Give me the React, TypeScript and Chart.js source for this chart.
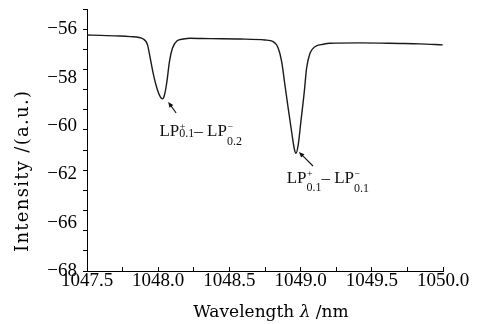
import React, { useEffect, useRef } from 'react';
import { Chart, registerables } from 'chart.js';

Chart.register(...registerables);

// Wavelength (nm) of each read point along the trace
const wavelength = [
  1047.502, 1047.593, 1047.733, 1047.804, 1047.897, 1047.925, 1047.944, 1047.967, 1047.991, 1048.014,
  1048.030, 1048.044, 1048.061, 1048.079, 1048.100, 1048.131, 1048.177, 1048.224, 1048.364, 1048.575,
  1048.750, 1048.808, 1048.843, 1048.867, 1048.890, 1048.913, 1048.937, 1048.955, 1048.967, 1048.983,
  1049.002, 1049.026, 1049.042, 1049.066, 1049.101, 1049.159, 1049.206, 1049.416, 1049.697, 1049.837,
  1049.998,
];
// Intensity (a.u.) at each wavelength
const intensity = [
  -56.29, -56.31, -56.34, -56.37, -56.49, -56.78, -57.44, -58.27, -58.93, -59.35,
  -59.46, -59.27, -58.61, -57.61, -56.95, -56.59, -56.49, -56.45, -56.47, -56.49,
  -56.54, -56.62, -56.95, -57.61, -58.77, -59.93, -61.09, -61.91, -62.16, -61.75,
  -60.59, -59.10, -57.94, -57.20, -56.87, -56.75, -56.70, -56.68, -56.71, -56.73,
  -56.78,
];

const xTickLabels = ['1047.5', '1048.0', '1048.5', '1049.0', '1049.5', '1050.0'];
const yTickLabels = ['\u221256', '\u221258', '\u221260', '\u221262', '\u221266', '\u221268'];
const yMin = -68;
const yMax = -55;
const yLabelTop = -56;

const xTitleParts = [
  { text: 'Wavelength ', italic: false },
  { text: '\u03bb', italic: true },
  { text: ' /nm', italic: false },
];
const yTitle = 'Intensity /(a.u.)';

// Dip annotations (data coordinates)
const annotationTips = [[1048.070, -59.61], [1048.988, -62.09]];
const annotationTails = [[1048.126, -60.16], [1049.087, -62.79]];
const annotationTextAt = [[1048.009, -61.29], [1048.902, -63.65]];
const annotationParts = [
  [
    { main: 'LP', sup: '+', sub: '0.1', subDy: 1.5, after: '\u2013 ' },
    { main: 'LP', sup: '\u2212', sub: '0.2', subDy: 9, after: '' },
  ],
  [
    { main: 'LP', sup: '+', sub: '0.1', subDy: 7.5, after: '\u2013 ' },
    { main: 'LP', sup: '\u2212', sub: '0.1', subDy: 8.5, after: '' },
  ],
];

const xTickValues = xTickLabels.map((s) => parseFloat(s));
const yLabelValues = yTickLabels.map(
  (_, i) => yLabelTop + (i * (yMin - yLabelTop)) / (yTickLabels.length - 1)
);

const serif = "'Liberation Serif', 'Times New Roman', serif";
const titleSerif = "'DejaVu Serif', 'Liberation Serif', serif";

const annotationPlugin = {
  id: 'dipLabels',
  afterDatasetsDraw(chart: any) {
    const { ctx, chartArea } = chart;
    const xs = chart.scales.x;
    const ys = chart.scales.y;
    ctx.save();
    ctx.fillStyle = '#111';
    ctx.strokeStyle = '#111';
    ctx.textBaseline = 'alphabetic';
    ctx.textAlign = 'left';
    annotationTips.forEach((tip, k) => {
      const tx = xs.getPixelForValue(tip[0]);
      const ty = ys.getPixelForValue(tip[1]);
      const sx = xs.getPixelForValue(annotationTails[k][0]);
      const sy = ys.getPixelForValue(annotationTails[k][1]);
      const ang = Math.atan2(ty - sy, tx - sx);
      const head = 6;
      ctx.lineWidth = 1.1;
      ctx.beginPath();
      ctx.moveTo(sx, sy);
      ctx.lineTo(tx - Math.cos(ang) * head * 0.7, ty - Math.sin(ang) * head * 0.7);
      ctx.stroke();
      ctx.beginPath();
      ctx.moveTo(tx, ty);
      ctx.lineTo(tx - head * Math.cos(ang - 0.4), ty - head * Math.sin(ang - 0.4));
      ctx.lineTo(tx - head * Math.cos(ang + 0.4), ty - head * Math.sin(ang + 0.4));
      ctx.closePath();
      ctx.fill();

      let px = xs.getPixelForValue(annotationTextAt[k][0]);
      const base = ys.getPixelForValue(annotationTextAt[k][1]);
      const mainFont = `17px ${serif}`;
      const supFont = `10px ${serif}`;
      const subFont = `12px ${serif}`;
      annotationParts[k].forEach((p) => {
        ctx.font = mainFont;
        ctx.fillText(p.main, px, base);
        px += ctx.measureText(p.main).width;
        ctx.font = supFont;
        ctx.fillText(p.sup, px + 0.5, base - 6);
        const w1 = ctx.measureText(p.sup).width + 0.5;
        ctx.font = subFont;
        ctx.fillText(p.sub, px, base + p.subDy);
        const w2 = ctx.measureText(p.sub).width;
        px += Math.max(w1, w2);
        if (p.after) {
          ctx.font = mainFont;
          ctx.fillText(p.after, px, base);
          px += ctx.measureText(p.after).width;
        }
      });
    });

    // Axis titles
    ctx.fillStyle = '#000';
    // y title (rotated, starting near the bottom of the axis)
    ctx.save();
    ctx.translate(23, chartArea.bottom - 19);
    ctx.rotate(-Math.PI / 2);
    ctx.font = `18px ${titleSerif}`;
    try {
      (ctx as any).letterSpacing = '1.3px';
    } catch (e) {}
    ctx.textAlign = 'left';
    ctx.textBaseline = 'middle';
    ctx.fillText(yTitle, 0, 0);
    try {
      (ctx as any).letterSpacing = '0px';
    } catch (e) {}
    ctx.restore();

    // x title with italic lambda
    const fontFor = (it: boolean) => `${it ? 'italic ' : ''}17px ${titleSerif}`;
    let total = 0;
    xTitleParts.forEach((p) => {
      ctx.font = fontFor(p.italic);
      total += ctx.measureText(p.text).width;
    });
    let tx0 = (chartArea.left + chartArea.right) / 2 + 6 - total / 2;
    const tBase = chart.height - 7;
    ctx.textAlign = 'left';
    ctx.textBaseline = 'alphabetic';
    xTitleParts.forEach((p) => {
      ctx.font = fontFor(p.italic);
      ctx.fillText(p.text, tx0, tBase);
      tx0 += ctx.measureText(p.text).width;
    });
    ctx.restore();
  },
};

export default function App() {
  const ref = useRef<HTMLCanvasElement>(null);
  useEffect(() => {
    const points = wavelength.map((x, i) => ({ x, y: intensity[i] }));
    const chart = new Chart(ref.current as HTMLCanvasElement, {
      type: 'line',
      data: {
        datasets: [
          {
            data: points,
            borderColor: '#1a1a1a',
            borderWidth: 1.4,
            pointRadius: 0,
            fill: false,
            cubicInterpolationMode: 'monotone',
          },
        ],
      },
      options: {
        animation: false,
        responsive: true,
        maintainAspectRatio: false,
        devicePixelRatio: 1,
        layout: { padding: { top: 9, right: 36, left: 0, bottom: 0 } },
        plugins: { legend: { display: false }, tooltip: { enabled: false } },
        scales: {
          x: {
            type: 'linear',
            min: 1047.5,
            max: 1050.0,
            afterFit: (s: any) => {
              s.height = 53;
            },
            afterBuildTicks: (s: any) => {
              const t: any[] = [];
              xTickValues.forEach((v, i) => {
                t.push({ value: v });
                if (i < xTickValues.length - 1) t.push({ value: (v + xTickValues[i + 1]) / 2 });
              });
              s.ticks = t;
            },
            ticks: {
              autoSkip: false,
              maxRotation: 0,
              padding: 5,
              color: '#000',
              font: { family: serif, size: 19, lineHeight: 1 },
              callback: (v: any) => {
                const i = xTickValues.findIndex((p) => Math.abs(p - Number(v)) < 1e-6);
                return i >= 0 ? xTickLabels[i] : '';
              },
            },
            grid: {
              drawOnChartArea: false,
              drawTicks: true,
              tickLength: -4,
              tickColor: '#000',
            },
            border: { display: true, color: '#000', width: 1 },
            title: { display: false },
          },
          y: {
            type: 'linear',
            min: yMin,
            max: yMax,
            afterFit: (s: any) => {
              s.width = 87;
              s.paddingTop = 0;
              s.paddingBottom = 0;
            },
            afterBuildTicks: (s: any) => {
              const t: any[] = [];
              for (let v = yMin; v <= yMax; v++) t.push({ value: v });
              yLabelValues.forEach((v) => {
                if (!t.some((k) => Math.abs(k.value - v) < 1e-6)) t.push({ value: v });
              });
              t.sort((a, b) => a.value - b.value);
              s.ticks = t;
            },
            ticks: {
              autoSkip: false,
              padding: 6,
              color: '#000',
              font: { family: serif, size: 19, lineHeight: 1 },
              callback: (v: any) => {
                const i = yLabelValues.findIndex((p) => Math.abs(p - Number(v)) < 1e-6);
                return i >= 0 ? yTickLabels[i] : '';
              },
            },
            grid: {
              drawOnChartArea: false,
              drawTicks: true,
              tickLength: 4,
              tickColor: (c: any) =>
                c.tick && Number.isInteger(Math.round(c.tick.value * 1e6) / 1e6) ? '#000' : 'rgba(0,0,0,0)',
            },
            border: { display: true, color: '#000', width: 1 },
            title: { display: false },
          },
        },
      },
      plugins: [annotationPlugin],
    } as any);
    return () => chart.destroy();
  }, []);
  return (
    <div style={{ position: 'fixed', left: 0, top: 0, width: 479, height: 324, background: '#fff' }}>
      <canvas ref={ref} />
    </div>
  );
}
